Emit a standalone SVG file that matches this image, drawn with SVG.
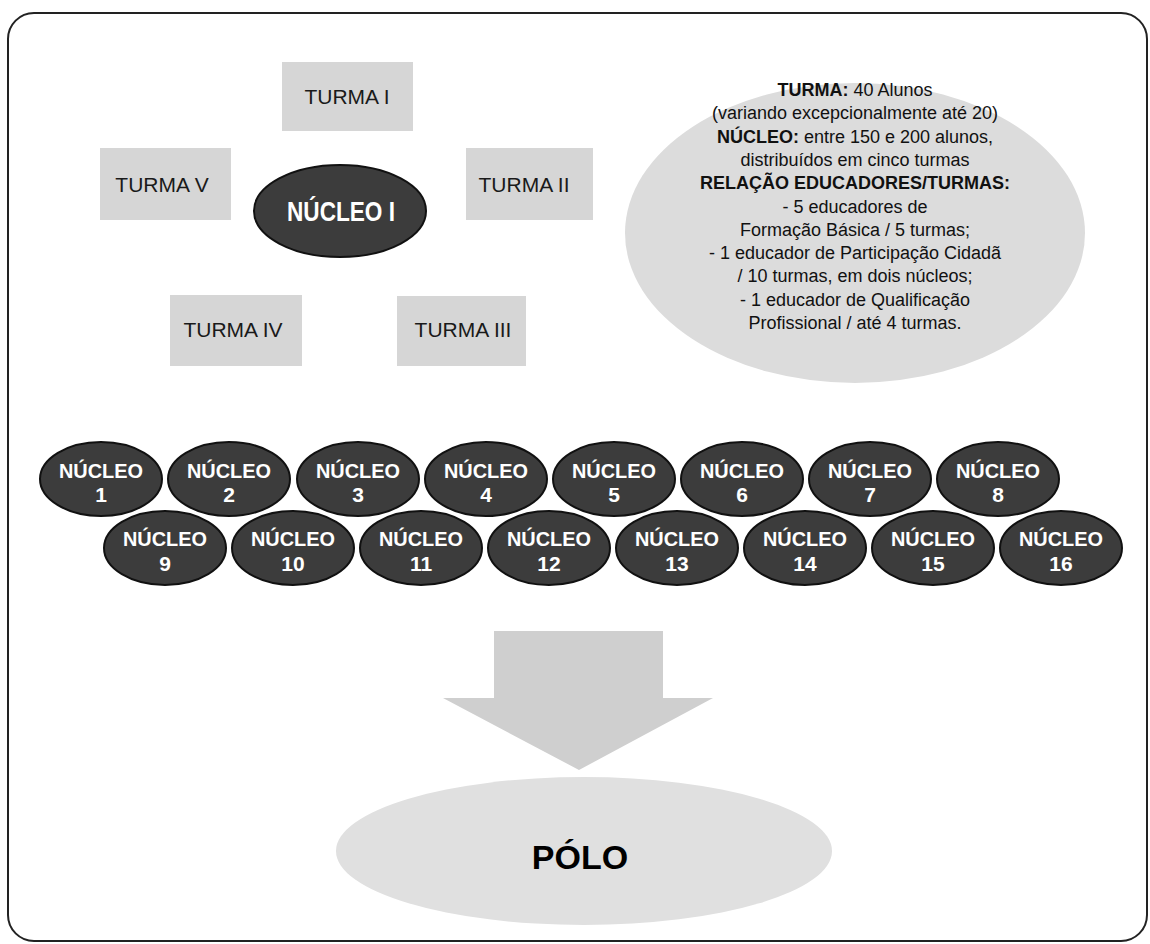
<svg xmlns="http://www.w3.org/2000/svg" width="1150" height="944" viewBox="0 0 1150 944">
<style>
  .frame{fill:#fff;stroke:#222;stroke-width:2}
  .box{fill:#d6d6d6}
  .blab{font-family:"Liberation Sans",Arial,sans-serif;font-size:21px;fill:#1a1a1a;text-anchor:middle}
  .dark{fill:#3c3c3c;stroke:#111;stroke-width:2}
  .wl{font-family:"Liberation Sans",Arial,sans-serif;font-weight:bold;fill:#fff;text-anchor:middle}
  .info{fill:#dcdcdc}
  .it{font-family:"Liberation Sans",Arial,sans-serif;font-size:18px;fill:#111;text-anchor:middle}
  .b{font-weight:bold}
  .arrow{fill:#cfcfcf}
  .polo{fill:#e0e0e0}
  .pt{font-family:"Liberation Sans",Arial,sans-serif;font-weight:bold;font-size:34px;fill:#000;text-anchor:middle}
</style>
<rect x="0" y="0" width="1150" height="944" fill="#fff"/>
<rect class="frame" x="8" y="13" width="1139" height="928" rx="26"/>

<g id="turma-1"><rect class="box" x="282" y="62" width="131" height="69"/><text class="blab" x="347" y="104">TURMA I</text></g>
<g id="turma-5"><rect class="box" x="100" y="148" width="131" height="72"/><text class="blab" x="162" y="192">TURMA V</text></g>
<g id="turma-2"><rect class="box" x="466" y="148" width="127" height="72"/><text class="blab" x="524" y="192">TURMA II</text></g>
<g id="turma-4"><rect class="box" x="170" y="295" width="132" height="71"/><text class="blab" x="233" y="337">TURMA IV</text></g>
<g id="turma-3"><rect class="box" x="397" y="296" width="129" height="70"/><text class="blab" x="463" y="337">TURMA III</text></g>
<g id="nucleo-I"><ellipse class="dark" cx="340" cy="211" rx="86" ry="46"/><text class="wl" x="341" y="221" font-size="27" textLength="108" lengthAdjust="spacingAndGlyphs">NÚCLEO I</text></g>

<g id="info">
  <ellipse class="info" cx="855" cy="233" rx="230" ry="150"/>
  <text class="it" x="855" y="96"><tspan class="b">TURMA:</tspan> 40 Alunos</text>
  <text class="it" x="855" y="119">(variando excepcionalmente até 20)</text>
  <text class="it" x="855" y="143"><tspan class="b">NÚCLEO:</tspan> entre 150 e 200 alunos,</text>
  <text class="it" x="855" y="166">distribuídos em cinco turmas</text>
  <text class="it b" x="855" y="189">RELAÇÃO EDUCADORES/TURMAS:</text>
  <text class="it" x="855" y="213">- 5 educadores de</text>
  <text class="it" x="855" y="236">Formação Básica / 5 turmas;</text>
  <text class="it" x="855" y="259">- 1 educador de Participação Cidadã</text>
  <text class="it" x="855" y="282">/ 10 turmas, em dois núcleos;</text>
  <text class="it" x="855" y="306">- 1 educador de Qualificação</text>
  <text class="it" x="855" y="329">Profissional / até 4 turmas.</text>
</g>

<g id="nucleos-row1">
  <g id="nucleo-1"><ellipse class="dark" cx="101" cy="479" rx="61" ry="37"/><text class="wl" x="101" y="478" font-size="21" textLength="84" lengthAdjust="spacingAndGlyphs">NÚCLEO</text><text class="wl" x="101" y="502" font-size="21">1</text></g>
  <g id="nucleo-2"><ellipse class="dark" cx="229" cy="479" rx="61" ry="37"/><text class="wl" x="229" y="478" font-size="21" textLength="84" lengthAdjust="spacingAndGlyphs">NÚCLEO</text><text class="wl" x="229" y="502" font-size="21">2</text></g>
  <g id="nucleo-3"><ellipse class="dark" cx="358" cy="479" rx="61" ry="37"/><text class="wl" x="358" y="478" font-size="21" textLength="84" lengthAdjust="spacingAndGlyphs">NÚCLEO</text><text class="wl" x="358" y="502" font-size="21">3</text></g>
  <g id="nucleo-4"><ellipse class="dark" cx="486" cy="479" rx="61" ry="37"/><text class="wl" x="486" y="478" font-size="21" textLength="84" lengthAdjust="spacingAndGlyphs">NÚCLEO</text><text class="wl" x="486" y="502" font-size="21">4</text></g>
  <g id="nucleo-5"><ellipse class="dark" cx="614" cy="479" rx="61" ry="37"/><text class="wl" x="614" y="478" font-size="21" textLength="84" lengthAdjust="spacingAndGlyphs">NÚCLEO</text><text class="wl" x="614" y="502" font-size="21">5</text></g>
  <g id="nucleo-6"><ellipse class="dark" cx="742" cy="479" rx="61" ry="37"/><text class="wl" x="742" y="478" font-size="21" textLength="84" lengthAdjust="spacingAndGlyphs">NÚCLEO</text><text class="wl" x="742" y="502" font-size="21">6</text></g>
  <g id="nucleo-7"><ellipse class="dark" cx="870" cy="479" rx="61" ry="37"/><text class="wl" x="870" y="478" font-size="21" textLength="84" lengthAdjust="spacingAndGlyphs">NÚCLEO</text><text class="wl" x="870" y="502" font-size="21">7</text></g>
  <g id="nucleo-8"><ellipse class="dark" cx="998" cy="479" rx="61" ry="37"/><text class="wl" x="998" y="478" font-size="21" textLength="84" lengthAdjust="spacingAndGlyphs">NÚCLEO</text><text class="wl" x="998" y="502" font-size="21">8</text></g>
</g>
<g id="nucleos-row2">
  <g id="nucleo-9"><ellipse class="dark" cx="165" cy="548" rx="61" ry="37"/><text class="wl" x="165" y="546" font-size="21" textLength="84" lengthAdjust="spacingAndGlyphs">NÚCLEO</text><text class="wl" x="165" y="571" font-size="21">9</text></g>
  <g id="nucleo-10"><ellipse class="dark" cx="293" cy="548" rx="61" ry="37"/><text class="wl" x="293" y="546" font-size="21" textLength="84" lengthAdjust="spacingAndGlyphs">NÚCLEO</text><text class="wl" x="293" y="571" font-size="21">10</text></g>
  <g id="nucleo-11"><ellipse class="dark" cx="421" cy="548" rx="61" ry="37"/><text class="wl" x="421" y="546" font-size="21" textLength="84" lengthAdjust="spacingAndGlyphs">NÚCLEO</text><text class="wl" x="421" y="571" font-size="21">11</text></g>
  <g id="nucleo-12"><ellipse class="dark" cx="549" cy="548" rx="61" ry="37"/><text class="wl" x="549" y="546" font-size="21" textLength="84" lengthAdjust="spacingAndGlyphs">NÚCLEO</text><text class="wl" x="549" y="571" font-size="21">12</text></g>
  <g id="nucleo-13"><ellipse class="dark" cx="677" cy="548" rx="61" ry="37"/><text class="wl" x="677" y="546" font-size="21" textLength="84" lengthAdjust="spacingAndGlyphs">NÚCLEO</text><text class="wl" x="677" y="571" font-size="21">13</text></g>
  <g id="nucleo-14"><ellipse class="dark" cx="805" cy="548" rx="61" ry="37"/><text class="wl" x="805" y="546" font-size="21" textLength="84" lengthAdjust="spacingAndGlyphs">NÚCLEO</text><text class="wl" x="805" y="571" font-size="21">14</text></g>
  <g id="nucleo-15"><ellipse class="dark" cx="933" cy="548" rx="61" ry="37"/><text class="wl" x="933" y="546" font-size="21" textLength="84" lengthAdjust="spacingAndGlyphs">NÚCLEO</text><text class="wl" x="933" y="571" font-size="21">15</text></g>
  <g id="nucleo-16"><ellipse class="dark" cx="1061" cy="548" rx="61" ry="37"/><text class="wl" x="1061" y="546" font-size="21" textLength="84" lengthAdjust="spacingAndGlyphs">NÚCLEO</text><text class="wl" x="1061" y="571" font-size="21">16</text></g>
</g>

<g id="connectors">
  <path class="arrow" d="M494,631 H663 V698 H713 L579,770 L443,698 H494 Z"/>
</g>

<g id="polo"><ellipse class="polo" cx="584" cy="851" rx="248" ry="74"/><text class="pt" x="580" y="869">PÓLO</text></g>
</svg>
